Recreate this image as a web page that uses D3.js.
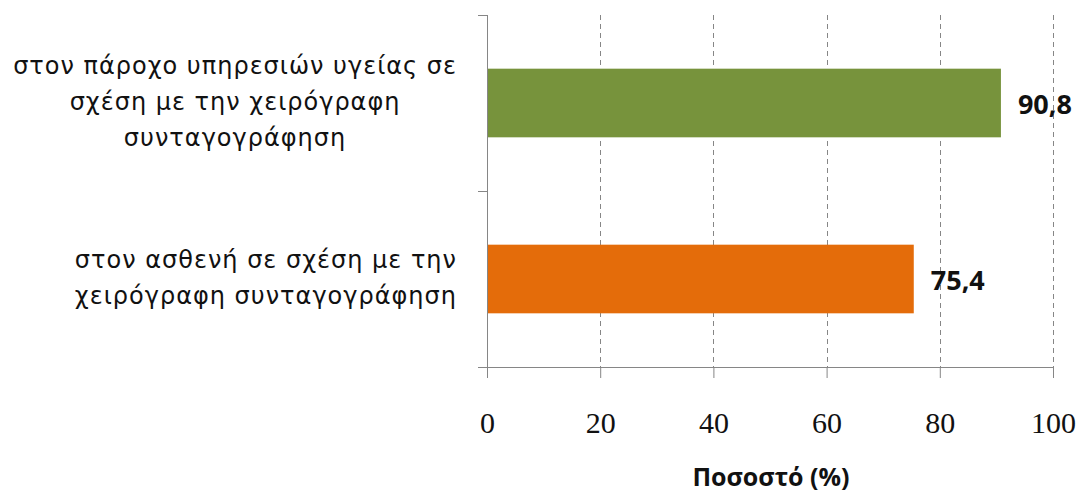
<!DOCTYPE html>
<html>
<head>
<meta charset="utf-8">
<script src="https://cdn.jsdelivr.net/npm/d3@7"></script>
<style>
  body { margin: 0; background: #fff; }
  svg { display: block; }
</style>
</head>
<body>
<svg id="chart" width="1080" height="497"></svg>
<script>
// Category labels (one entry per line), top to bottom
const categories = [
  ["στον πάροχο υπηρεσιών υγείας σε", "σχέση με την χειρόγραφη", "συνταγογράφηση"],
  ["στον ασθενή σε σχέση με την", "χειρόγραφη συνταγογράφηση"]
];
const values = [90.8, 75.4];
const barColors = ["#77933C", "#E46C0A"];
const tickValues = [0, 20, 40, 60, 80, 100];
const axisTitle = "Ποσοστό (%)";

const W = 1080, H = 497;
const plot = { left: 487, right: 1053, top: 15, bottom: 367 };
const axisColor = "#868686";

const svg = d3.select("#chart");
svg.append("rect").attr("width", W).attr("height", H).attr("fill", "#fff");

const x = d3.scaleLinear().domain([0, 100]).range([plot.left, plot.right]);
const y = d3.scaleBand()
  .domain(d3.range(categories.length))
  .range([plot.top, plot.bottom])
  .paddingInner(0.61)
  .paddingOuter(0.305);

// decimal comma for the value labels
const locale = d3.formatLocale({ decimal: ",", thousands: ".", grouping: [3], currency: ["", "€"] });
const fmt = locale.format(".1f");

// vertical dashed gridlines
svg.append("g")
  .selectAll("line")
  .data(tickValues.filter(d => d > 0))
  .join("line")
  .attr("x1", d => Math.round(x(d)) + 0.5)
  .attr("x2", d => Math.round(x(d)) + 0.5)
  .attr("y1", plot.top)
  .attr("y2", plot.bottom)
  .attr("stroke", axisColor)
  .attr("stroke-width", 1)
  .attr("stroke-dasharray", "5,4");

// bars
svg.append("g")
  .selectAll("rect")
  .data(values)
  .join("rect")
  .attr("x", x(0))
  .attr("y", (d, i) => y(i))
  .attr("width", d => x(d) - x(0))
  .attr("height", y.bandwidth())
  .attr("fill", (d, i) => barColors[i]);

// value labels
svg.append("g")
  .selectAll("text")
  .data(values)
  .join("text")
  .attr("x", d => x(d) + 17)
  .attr("y", (d, i) => y(i) + y.bandwidth() / 2 + 1)
  .attr("dy", "0.36em")
  .attr("font-family", "'Open Sans', sans-serif")
  .attr("font-weight", "bold")
  .attr("font-size", 27)
  .attr("fill", "#111")
  .text(d => fmt(d));

// x axis
const xAxis = svg.append("g")
  .attr("transform", `translate(0,${plot.bottom})`)
  .call(d3.axisBottom(x).tickValues(tickValues).tickSize(11).tickSizeOuter(0));
xAxis.select(".domain").attr("stroke", axisColor).attr("d", `M${plot.left - 9},0.5H${plot.right}`);
xAxis.selectAll(".tick line").attr("stroke", axisColor);
xAxis.selectAll(".tick text")
  .attr("y", 66)
  .attr("dy", 0)
  .attr("fill", "#111")
  .attr("font-family", "'Liberation Serif', serif")
  .attr("font-size", 30);

// y axis: ticks between categories
const yEdges = d3.scaleLinear().domain([0, categories.length]).range([plot.top, plot.bottom]);
const yAxis = svg.append("g")
  .attr("transform", `translate(${plot.left},0)`)
  .call(d3.axisLeft(yEdges).ticks(categories.length).tickSize(9).tickFormat(""));
yAxis.select(".domain").attr("stroke", axisColor).attr("d", `M0.5,${plot.top}V${plot.bottom}`);
yAxis.selectAll(".tick line").attr("stroke", axisColor);

// category labels: lines centered inside a block right-aligned to the axis
const labelRight = 457;
const lineGap = 36;
categories.forEach((lines, i) => {
  const g = svg.append("g");
  const cy = y(i) + y.bandwidth() / 2;
  const texts = g.selectAll("text")
    .data(lines)
    .join("text")
    .attr("font-family", "'DejaVu Sans', sans-serif")
    .attr("font-size", 24)
    .attr("letter-spacing", 1)
    .attr("fill", "#111")
    .attr("text-anchor", "middle")
    .attr("y", (d, j) => cy + (j - (lines.length - 1) / 2) * lineGap)
    .attr("dy", "0.3em")
    .text(d => d);
  let maxW = 0;
  texts.each(function () { maxW = Math.max(maxW, this.getComputedTextLength()); });
  texts.attr("x", labelRight - maxW / 2);
});

// axis title
svg.append("text")
  .attr("x", 771)
  .attr("y", 486)
  .attr("text-anchor", "middle")
  .attr("font-family", "'Open Sans', sans-serif")
  .attr("font-weight", "bold")
  .attr("font-size", 25)
  .attr("fill", "#111")
  .text(axisTitle);
</script>
</body>
</html>
